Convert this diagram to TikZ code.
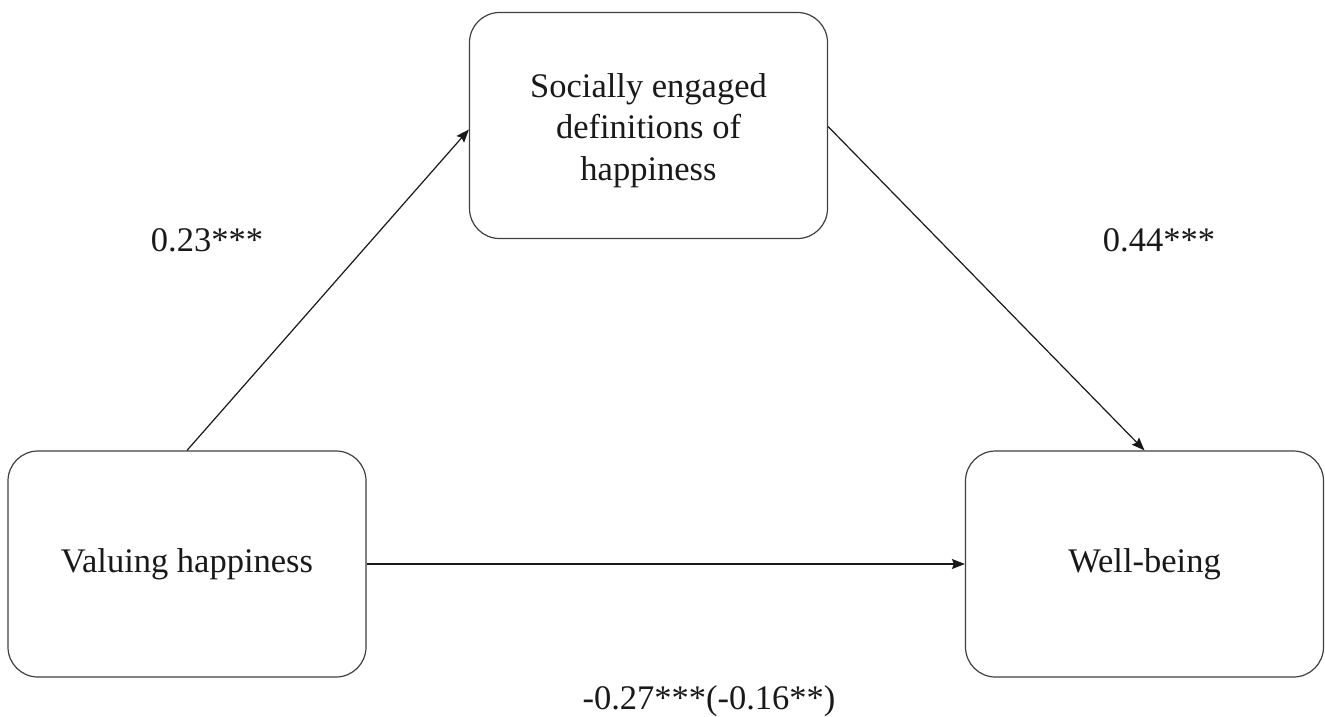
\documentclass[tikz,border=0pt]{standalone}
\usepackage{fontspec}
\setmainfont{Liberation Serif}
\usetikzlibrary{arrows.meta}
\begin{document}
\begin{tikzpicture}[x=1pt,y=-1pt,
  box/.style={draw=black!75, line width=1.2pt, rounded corners=30pt,
    minimum width=358pt, minimum height=226pt, align=center,
    font=\fontsize{34.5}{41.5}\selectfont, text=black!90, fill=white},
  lbl/.style={font=\fontsize{34.5}{40}\selectfont, text=black!90},
  conn/.style={draw=black!90, line width=1.2pt, -{Stealth[length=13pt,width=10pt,inset=2pt]}}]
\useasboundingbox[fill=white] (0,0) rectangle (1325,716);
\node[box] (se) at (648.5,125.5) {\begin{tabular}{@{}c@{}}\rule{0pt}{39pt}Socially engaged\\definitions of\\happiness\end{tabular}};
\node[box] (vh) at (187,564) {Valuing happiness};
\node[box] (wb) at (1144.5,564) {Well-being};
\draw[conn] (vh.north) -- ([yshift=-4pt]se.west);
\draw[conn] ([yshift=-1pt]se.east) -- (wb.north);
\draw[conn] (vh.east) -- (wb.west);
\node[lbl] (l1) at (207,240) {0.23***};
\node[lbl] (l2) at (1159,240) {0.44***};
\node[lbl] (l3) at (709,701) {-0.27***(-0.16**)};
\end{tikzpicture}
\end{document}
